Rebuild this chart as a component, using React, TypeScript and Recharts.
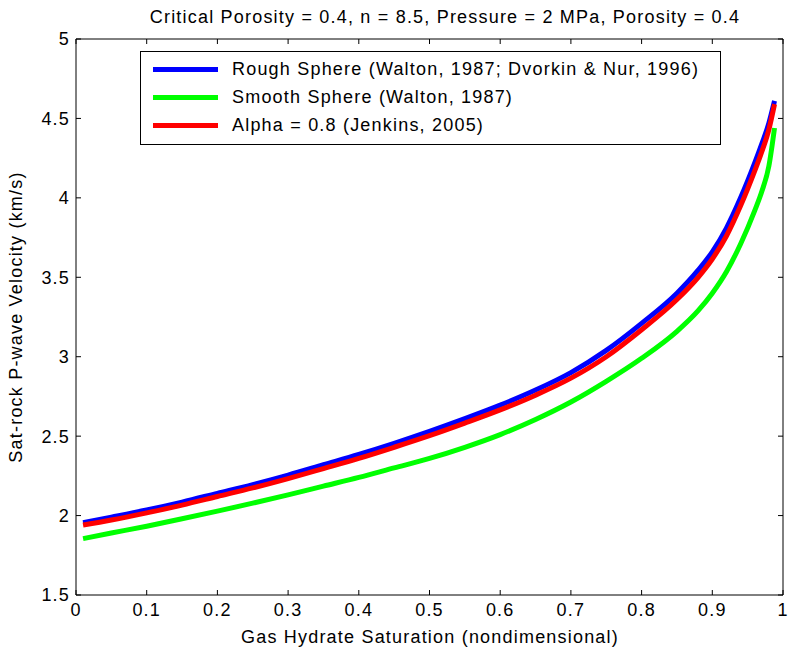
import React from 'react';
import { LineChart, Line, XAxis, YAxis, Legend, Label } from 'recharts';

// Gas hydrate saturation (x) shared by all three curves
const saturation = [
  0.01, 0.05, 0.1, 0.15, 0.2, 0.25, 0.3, 0.35, 0.4, 0.45, 0.5, 0.55, 0.6, 0.65, 0.7, 0.75, 0.8,
  0.85, 0.88, 0.9, 0.92, 0.94, 0.96, 0.97, 0.98, 0.988,
];

// Sat-rock P-wave velocity (km/s)
const roughSphere = [
  1.955, 1.99, 2.035, 2.085, 2.14, 2.195, 2.255, 2.32, 2.385, 2.455, 2.53, 2.61, 2.695, 2.79, 2.9,
  3.04, 3.21, 3.4, 3.545, 3.66, 3.81, 4.0, 4.22, 4.34, 4.47, 4.61,
];
const smoothSphere = [
  1.855, 1.89, 1.933, 1.98, 2.028, 2.078, 2.13, 2.185, 2.24, 2.3, 2.36, 2.43, 2.51, 2.605, 2.715,
  2.845, 2.99, 3.16, 3.29, 3.4, 3.535, 3.71, 3.92, 4.04, 4.2, 4.44,
];
const alpha08 = [
  1.94, 1.972, 2.017, 2.066, 2.12, 2.174, 2.233, 2.296, 2.36, 2.43, 2.503, 2.582, 2.665, 2.758, 2.865,
  3.0, 3.17, 3.36, 3.5, 3.615, 3.76, 3.95, 4.17, 4.29, 4.43, 4.59,
];

const xTicks = [0, 0.1, 0.2, 0.3, 0.4, 0.5, 0.6, 0.7, 0.8, 0.9, 1];
const yTicks = [1.5, 2, 2.5, 3, 3.5, 4, 4.5, 5];

const series = [
  { key: 'rough', name: 'Rough Sphere (Walton, 1987; Dvorkin & Nur, 1996)', color: '#0000ff' },
  { key: 'smooth', name: 'Smooth Sphere (Walton, 1987)', color: '#00ff00' },
  { key: 'alpha', name: 'Alpha = 0.8 (Jenkins, 2005)', color: '#ff0000' },
];

const rows = saturation.map((x, i) => ({
  x,
  rough: roughSphere[i],
  smooth: smoothSphere[i],
  alpha: alpha08[i],
}));

const FONT = '"Liberation Sans", Arial, sans-serif';
const FS = 18;
const LS = 1.2;
const TICK = 5;

const BottomTick = ({ x, y, payload }: any) => (
  <g>
    <line x1={x} y1={y} x2={x} y2={y - TICK} stroke="#000" />
    <text x={x} y={y + 21} textAnchor="middle" fontSize={FS} fontFamily={FONT} letterSpacing={LS} fill="#000">
      {payload.value}
    </text>
  </g>
);

const LeftTick = ({ x, y, payload }: any) => (
  <g>
    <line x1={x} y1={y} x2={x + TICK} y2={y} stroke="#000" />
    <text x={x - 6} y={y} dy="0.36em" textAnchor="end" fontSize={FS} fontFamily={FONT} letterSpacing={LS} fill="#000">
      {payload.value}
    </text>
  </g>
);

const TopTick = ({ x, y }: any) => <line x1={x} y1={y} x2={x} y2={y + TICK} stroke="#000" />;
const RightTick = ({ x, y }: any) => <line x1={x} y1={y} x2={x - TICK} y2={y} stroke="#000" />;

const LegendBox = () => (
  <div
    style={{
      width: 579,
      height: 89,
      border: '1px solid #000',
      background: '#fff',
      fontFamily: FONT,
      fontSize: FS,
      letterSpacing: LS,
      paddingTop: 3,
      boxSizing: 'content-box',
    }}
  >
    {series.map((s) => (
      <div key={s.key} style={{ display: 'flex', alignItems: 'center', height: 28.4 }}>
        <div style={{ width: 65, height: 5, background: s.color, marginLeft: 12, marginRight: 14 }} />
        <span style={{ color: '#000' }}>{s.name}</span>
      </div>
    ))}
  </div>
);

export default function App() {
  return (
    <div style={{ position: 'absolute', left: 0, top: 0, background: '#fff' }}>
      <LineChart width={789} height={656} data={rows} margin={{ top: 38, right: 5, bottom: 21, left: 0 }}>
        <XAxis
          dataKey="x"
          type="number"
          domain={[0, 1]}
          ticks={xTicks}
          tick={<BottomTick />}
          tickSize={0}
          tickMargin={0}
          tickLine={false}
          height={40}
          stroke="#000"
          allowDataOverflow
        >
          <Label
            content={() => (
              <text x={430} y={643} textAnchor="middle" fontSize={FS} fontFamily={FONT} letterSpacing={LS} fill="#000">
                Gas Hydrate Saturation (nondimensional)
              </text>
            )}
          />
        </XAxis>
        <XAxis
          xAxisId="top"
          orientation="top"
          dataKey="x"
          type="number"
          domain={[0, 1]}
          ticks={xTicks}
          tick={<TopTick />}
          tickSize={0}
          tickMargin={0}
          tickLine={false}
          height={1}
          stroke="#000"
          allowDataOverflow
        >
          <Label
            content={() => (
              <text x={445} y={23} textAnchor="middle" fontSize={FS} fontFamily={FONT} letterSpacing={LS} fill="#000">
                Critical Porosity = 0.4, n = 8.5, Pressure = 2 MPa, Porosity = 0.4
              </text>
            )}
          />
        </XAxis>
        <YAxis
          type="number"
          domain={[1.5, 5]}
          ticks={yTicks}
          tick={<LeftTick />}
          tickSize={0}
          tickMargin={0}
          tickLine={false}
          width={76}
          stroke="#000"
          allowDataOverflow
        >
          <Label
            content={() => (
              <text
                x={22}
                y={317}
                transform="rotate(-90 22 317)"
                textAnchor="middle"
                fontSize={FS}
                fontFamily={FONT}
                letterSpacing={LS}
                fill="#000"
              >
                Sat-rock P-wave Velocity (km/s)
              </text>
            )}
          />
        </YAxis>
        <YAxis
          yAxisId="right"
          orientation="right"
          type="number"
          domain={[1.5, 5]}
          ticks={yTicks}
          tick={<RightTick />}
          tickSize={0}
          tickMargin={0}
          tickLine={false}
          width={1}
          stroke="#000"
          allowDataOverflow
        />
        <Legend
          layout="horizontal"
          verticalAlign="middle"
          align="center"
          wrapperStyle={{ position: 'absolute', left: 140, top: 51, width: 581, height: 93 }}
          content={() => <LegendBox />}
        />
        {series.map((s) => (
          <Line
            key={s.key}
            dataKey={s.key}
            name={s.name}
            type="monotone"
            stroke={s.color}
            strokeWidth={5}
            dot={false}
            isAnimationActive={false}
            xAxisId={s.key === 'alpha' ? 'top' : 0}
            yAxisId={s.key === 'alpha' ? 'right' : 0}
          />
        ))}
      </LineChart>
    </div>
  );
}
